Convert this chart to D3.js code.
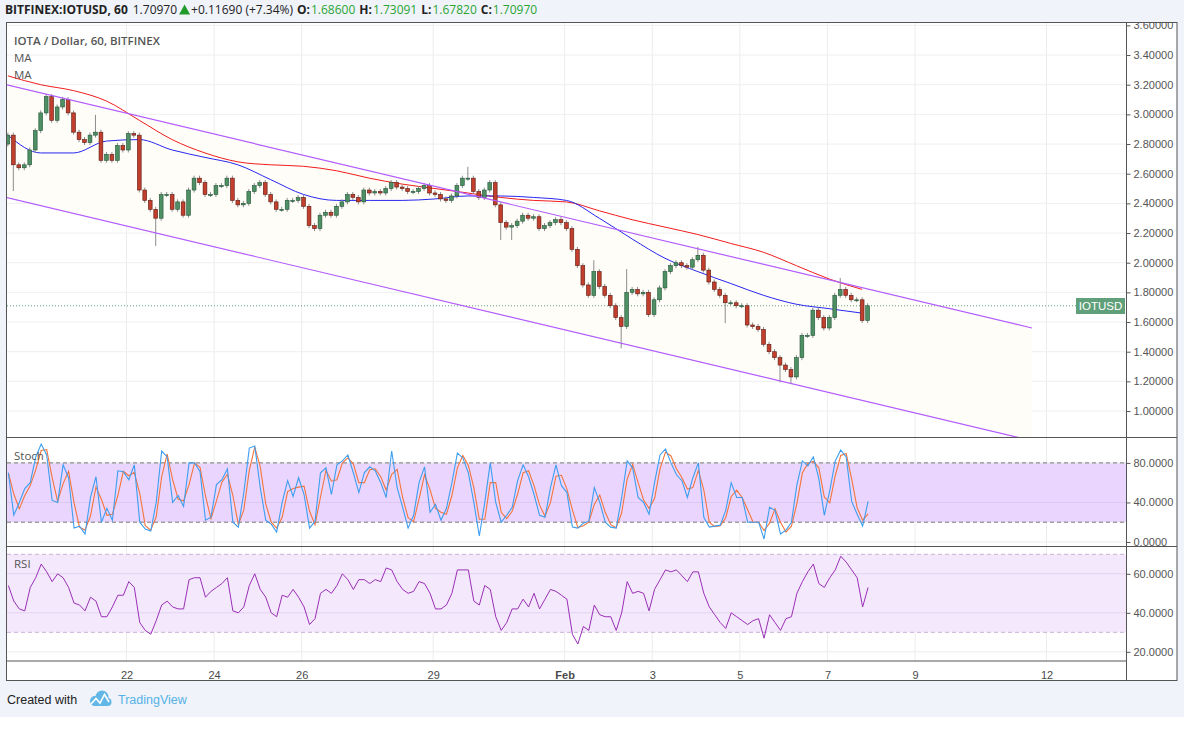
<!DOCTYPE html>
<meta charset='utf-8'>
<style>
  body { margin: 0; background: #fff; }
  svg text { font-family: 'Liberation Sans', Arial, sans-serif; }
</style>
<body>
<script src='https://cdnjs.cloudflare.com/ajax/libs/d3/7.8.5/d3.min.js'></script>
<script>
// ---- data (3h steps, first bar Jan 19 07:00 UTC) ----
var closes = [
  2.86,2.66,2.64,2.66,2.76,2.89,3.01,3.12,2.96,3.05,
  3.10,3.01,2.88,2.83,2.81,2.86,2.88,2.69,2.73,2.69,
  2.79,2.76,2.87,2.86,2.49,2.42,2.36,2.30,2.46,2.46,
  2.36,2.41,2.32,2.49,2.57,2.54,2.46,2.46,2.52,2.52,
  2.57,2.42,2.39,2.40,2.48,2.52,2.54,2.46,2.41,2.36,
  2.36,2.42,2.42,2.44,2.38,2.25,2.23,2.32,2.34,2.32,
  2.38,2.41,2.46,2.44,2.41,2.49,2.47,2.48,2.47,2.50,
  2.54,2.51,2.50,2.48,2.48,2.50,2.52,2.47,2.46,2.43,
  2.42,2.45,2.52,2.57,2.57,2.48,2.44,2.49,2.54,2.39,
  2.27,2.24,2.25,2.28,2.32,2.30,2.31,2.23,2.25,2.27,
  2.29,2.27,2.23,2.09,1.98,1.85,1.78,1.94,1.84,1.78,
  1.71,1.63,1.57,1.80,1.82,1.79,1.80,1.65,1.75,1.83,
  1.94,1.98,2.00,1.98,1.97,2.02,2.05,1.95,1.87,1.82,
  1.78,1.73,1.73,1.71,1.71,1.58,1.57,1.55,1.45,1.40,
  1.36,1.31,1.28,1.23,1.36,1.51,1.51,1.68,1.63,1.56,
  1.63,1.78,1.82,1.78,1.75,1.75,1.61,1.7097
];
var firstOpen = 2.80;
var highSpikes = [[16, 2.98], [84, 2.63], [107, 2.00], [113, 1.94], [126, 2.09], [152, 1.88]];
var lowSpikes = [[1, 2.50], [27, 2.13], [90, 2.17], [92, 2.17], [112, 1.44], [131, 1.61], [141, 1.21], [143, 1.20]];

var maIndex = [0,6,12,18,24,30,36,42,48,54,60,66,72,78,84,90,96,102,108,114,120,126,132,138,144,150,156];
var maSlow = [3.26,3.20,3.16,3.09,2.96,2.83,2.74,2.68,2.66,2.65,2.62,2.57,2.53,2.50,2.47,2.44,2.42,2.41,2.35,2.29,2.24,2.19,2.13,2.07,1.98,1.89,1.82];
var maFast = [2.86,2.74,2.74,2.82,2.83,2.76,2.71,2.66,2.56,2.46,2.42,2.42,2.42,2.43,2.45,2.45,2.44,2.42,2.30,2.16,2.03,1.94,1.86,1.78,1.72,1.69,1.66];

var stochK = [
  70,27,40,54,60,86,99,88,42,40,
  78,65,14,16,8,45,66,20,34,22,
  72,71,63,78,20,13,11,40,92,86,
  40,47,36,80,80,71,22,25,58,63,
  74,20,15,50,95,97,55,22,18,10,
  40,62,46,65,48,14,21,70,75,48,
  78,82,88,70,50,70,76,72,60,45,
  92,55,35,14,27,60,76,30,38,22,
  34,60,90,85,70,40,6,40,80,40,
  20,27,35,62,78,66,48,27,25,55,
  78,57,50,15,14,19,21,55,40,20,
  15,14,45,82,75,45,40,28,60,88,
  94,80,68,62,45,65,80,25,15,16,
  17,32,60,45,45,20,20,20,3,35,
  32,8,12,20,58,82,77,86,64,27,
  52,82,93,86,41,28,16,41
];
var rsi = [
  54,46,42,41,53,58,65,61,56,60,
  58,53,45,44,41,48,46,38,38,43,
  49,49,56,53,35,31,29,36,44,46,
  43,42,42,57,58,58,48,51,53,55,
  58,41,40,43,54,60,52,48,40,38,
  49,48,52,48,43,34,37,50,52,50,
  54,60,57,52,57,57,55,57,56,63,
  62,56,52,50,51,56,55,50,42,42,
  44,50,62,62,62,46,44,54,52,38,
  31,35,42,42,47,43,50,42,47,52,
  51,49,47,29,24,33,31,44,39,38,
  38,31,40,56,50,51,50,41,52,57,
  62,61,62,59,56,61,61,50,43,39,
  35,32,40,38,36,34,36,37,27,39,
  35,31,37,38,50,56,61,65,55,53,
  58,62,69,66,62,58,43,53
];

var channelUpper = [3.20, 1.56];
var channelLower = [2.44, 0.80];

var priceTicks = [1.0,1.2,1.4,1.6,1.8,2.0,2.2,2.4,2.6,2.8,3.0,3.2,3.4,3.6];
var stochTicks = [0, 40, 80];
var rsiTicks = [20, 40, 60];
var dayTicks = [[0,22],[0,24],[0,26],[0,29],[1,1],[1,3],[1,5],[1,7],[1,9],[1,12]];
var dayLabels = ['22','24','26','29','Feb','3','5','7','9','12'];

var headerOhlc = [['O:', '1.68600'], ['H:', '1.73091'], ['L:', '1.67820'], ['C:', '1.70970']];

// ---- layout ----
var width = 1184, height = 737;
var left = 7, right = 1126.5, frameRight = 1177;
var mainTop = 23, mainBottom = 437.5, stochBottom = 546.5, rsiBottom = 661, frameBottom = 680.5;
var osFont = "'Open Sans', sans-serif";

var svg = d3.select('body').append('svg')
  .attr('width', width)
  .attr('height', height);

svg.append('rect').attr('width', width).attr('height', 717).attr('fill', '#f0f3fa');
svg.append('rect').attr('x', left).attr('y', mainTop).attr('width', frameRight - left).attr('height', frameBottom - mainTop).attr('fill', '#fff');

var defs = svg.append('defs');
function clip(id, x0, x1, y0, y1) {
  defs.append('clipPath').attr('id', id).append('rect')
    .attr('x', x0).attr('y', y0).attr('width', x1 - x0).attr('height', y1 - y0);
}
clip('cmain', left, right, mainTop, mainBottom);
clip('cstoch', left, right, mainBottom, stochBottom);
clip('crsi', left, right, stochBottom, rsiBottom);
clip('caxis', right, frameRight, mainTop, mainBottom);

var x = d3.scaleUtc()
  .domain([Date.UTC(2018, 0, 22), Date.UTC(2018, 1, 12)])
  .range([126.5, 1046.5]);
var y = d3.scaleLinear().domain([0.825, 3.616]).range([437, 23]);
var yS = d3.scaleLinear().domain([-4.6, 105.7]).range([stochBottom, mainBottom]);
var yR = d3.scaleLinear().domain([15.3, 74]).range([rsiBottom, stochBottom]);

var t0 = Date.UTC(2018, 0, 19, 7), step = 3 * 3600 * 1000;
function tx(i) { return x(new Date(t0 + i * step)); }

var candles = closes.map(function(c, i) {
  var o = i === 0 ? firstOpen : closes[i - 1];
  return { i: i, o: o, c: c, h: Math.max(o, c), l: Math.min(o, c) };
});
highSpikes.forEach(function(s) { candles[s[0]].h = s[1]; });
lowSpikes.forEach(function(s) { candles[s[0]].l = s[1]; });

// ---- grid ----
var grid = svg.append('g');
var dayDates = dayTicks.map(function(d) { return new Date(Date.UTC(2018, d[0], d[1])); });
grid.selectAll('line.v').data(dayDates).enter().append('line')
  .attr('x1', function(d) { return x(d); }).attr('x2', function(d) { return x(d); })
  .attr('y1', mainTop).attr('y2', rsiBottom)
  .attr('stroke', '#ececec');
grid.selectAll('line.h').data(priceTicks).enter().append('line')
  .attr('x1', left).attr('x2', right)
  .attr('y1', function(d) { return y(d); }).attr('y2', function(d) { return y(d); })
  .attr('stroke', '#efefef');

// ---- main pane ----
var main = svg.append('g').attr('clip-path', 'url(#cmain)');
var chA = new Date(Date.UTC(2018, 0, 19, 6)), chB = new Date(Date.UTC(2018, 1, 11, 16));
main.append('path')
  .attr('d', 'M' + x(chA) + ',' + y(channelUpper[0]) + 'L' + x(chB) + ',' + y(channelUpper[1]) +
    'L' + x(chB) + ',' + y(channelLower[1]) + 'L' + x(chA) + ',' + y(channelLower[0]) + 'Z')
  .attr('fill', '#fffdf8');

// last price dotted line
main.append('line')
  .attr('x1', left).attr('x2', 1076)
  .attr('y1', y(closes[closes.length - 1])).attr('y2', y(closes[closes.length - 1]))
  .attr('stroke', '#5f9f7a').attr('stroke-dasharray', '1,2');

var maLine = d3.line()
  .x(function(d, k) { return tx(maIndex[k]); })
  .y(function(d) { return y(d); })
  .curve(d3.curveMonotoneX);
main.append('path').attr('d', maLine(maSlow)).attr('fill', 'none').attr('stroke', '#f01c1c').attr('stroke-width', 1);
main.append('path').attr('d', maLine(maFast)).attr('fill', 'none').attr('stroke', '#2727ee').attr('stroke-width', 1);

var bw = 3.8;
var cg = main.selectAll('g.c').data(candles).enter().append('g');
cg.append('line')
  .attr('x1', function(d) { return tx(d.i); }).attr('x2', function(d) { return tx(d.i); })
  .attr('y1', function(d) { return y(d.h) - 2.5; }).attr('y2', function(d) { return y(d.l) + 2.5; })
  .attr('stroke', '#8c8c8c');
cg.append('rect')
  .attr('x', function(d) { return tx(d.i) - bw / 2; })
  .attr('y', function(d) { return y(Math.max(d.o, d.c)); })
  .attr('width', bw)
  .attr('height', function(d) { return Math.max(1, Math.abs(y(d.o) - y(d.c))); })
  .attr('fill', function(d) { return d.c >= d.o ? '#4f8f64' : '#c13f2c'; })
  .attr('stroke', function(d) { return d.c >= d.o ? '#225437' : '#5b1a13'; })
  .attr('stroke-width', 0.6);

main.append('line')
  .attr('x1', x(chA)).attr('y1', y(channelUpper[0])).attr('x2', x(chB)).attr('y2', y(channelUpper[1]))
  .attr('stroke', '#b35cff').attr('stroke-width', 1.2);
main.append('line')
  .attr('x1', x(chA)).attr('y1', y(channelLower[0])).attr('x2', x(chB)).attr('y2', y(channelLower[1]))
  .attr('stroke', '#b35cff').attr('stroke-width', 1.2);

// legend
var legend = svg.append('g').attr('fill', '#555');
legend.append('text').attr('x', 14).attr('y', 45).attr('font-size', 11.5).attr('font-weight', 600)
  .style('font-family', osFont).text('IOTA / Dollar, 60, BITFINEX');
legend.append('text').attr('x', 14).attr('y', 62).attr('font-size', 11.5)
  .style('font-family', osFont).text('MA');
legend.append('text').attr('x', 14).attr('y', 79).attr('font-size', 11.5)
  .style('font-family', osFont).text('MA');

// price label
svg.append('rect').attr('x', 1076).attr('y', 298).attr('width', 49).attr('height', 16).attr('fill', '#5f9f7a');
svg.append('text').attr('x', 1100.5).attr('y', 310).attr('text-anchor', 'middle')
  .attr('fill', '#fff').attr('font-size', 11.5).text('IOTUSD');

// ---- stoch pane ----
var st = svg.append('g').attr('clip-path', 'url(#cstoch)');
st.append('rect').attr('x', left).attr('width', right - left)
  .attr('y', yS(80)).attr('height', yS(20) - yS(80)).attr('fill', '#e9d5fd');
stochTicks.forEach(function(v) {
  st.append('line').attr('x1', left).attr('x2', right).attr('y1', yS(v)).attr('y2', yS(v))
    .attr('stroke', v === 40 ? '#dcc6f2' : '#ececec');
});
[80, 20].forEach(function(v) {
  st.append('line').attr('x1', left).attr('x2', right).attr('y1', yS(v)).attr('y2', yS(v))
    .attr('stroke', '#777').attr('stroke-dasharray', '4,3');
});
var stochD = stochK.map(function(v, i) { return i === 0 ? v : (v + stochK[i - 1]) / 2; });
var sLine = d3.line().x(function(d, i) { return tx(i) + 0.5; }).y(function(d) { return yS(d); });
st.append('path').attr('d', sLine(stochD)).attr('fill', 'none').attr('stroke', '#f4743b').attr('stroke-width', 1.1);
st.append('path').attr('d', sLine(stochK)).attr('fill', 'none').attr('stroke', '#3d9ef0').attr('stroke-width', 1.1);
svg.append('text').attr('x', 14).attr('y', 460).attr('fill', '#555').attr('font-size', 11.5)
  .style('font-family', osFont).text('Stoch');

// ---- rsi pane ----
var rs = svg.append('g').attr('clip-path', 'url(#crsi)');
rs.append('rect').attr('x', left).attr('width', right - left)
  .attr('y', yR(70)).attr('height', yR(30) - yR(70)).attr('fill', '#f4e8fd');
rsiTicks.forEach(function(v) {
  rs.append('line').attr('x1', left).attr('x2', right).attr('y1', yR(v)).attr('y2', yR(v))
    .attr('stroke', v === 20 ? '#ececec' : '#e2d2ef');
});
[70, 30].forEach(function(v) {
  rs.append('line').attr('x1', left).attr('x2', right).attr('y1', yR(v)).attr('y2', yR(v))
    .attr('stroke', '#c6b2d4').attr('stroke-dasharray', '4,3');
});
var rLine = d3.line().x(function(d, i) { return tx(i) + 0.5; }).y(function(d) { return yR(d); });
rs.append('path').attr('d', rLine(rsi)).attr('fill', 'none').attr('stroke', '#9a2fb5').attr('stroke-width', 1);
svg.append('text').attr('x', 14).attr('y', 568).attr('fill', '#555').attr('font-size', 11.5)
  .style('font-family', osFont).text('RSI');

// ---- axes ----
function rightAxis(scale, ticks, fmt, clipId) {
  var outer = svg.append('g');
  if (clipId) outer.attr('clip-path', 'url(#' + clipId + ')');
  var g = outer.append('g').attr('transform', 'translate(' + right + ',0)')
    .call(d3.axisRight(scale).tickValues(ticks).tickSize(4).tickPadding(3).tickFormat(d3.format(fmt)));
  g.select('.domain').remove();
  g.selectAll('line').attr('stroke', '#555');
  g.selectAll('text').attr('fill', '#555').attr('font-size', 11).style('font-family', "'Liberation Sans', Arial, sans-serif");
  return g;
}
rightAxis(y, priceTicks, '.5f', 'caxis');
rightAxis(yS, stochTicks, '.4f');
rightAxis(yR, rsiTicks, '.4f');

var xg = svg.append('g').attr('transform', 'translate(0,' + rsiBottom + ')')
  .call(d3.axisBottom(x).tickValues(dayDates).tickSize(0).tickPadding(10)
    .tickFormat(function(d, i) { return dayLabels[i]; }));
xg.select('.domain').remove();
xg.selectAll('text').attr('fill', '#4a4a4a').attr('font-size', 11)
  .style('font-family', "'Liberation Sans', Arial, sans-serif")
  .attr('font-weight', function(d, i) { return dayLabels[i] === 'Feb' ? 'bold' : 'normal'; });

// ---- frame & separators ----
var frame = svg.append('g').attr('stroke', '#555').attr('fill', 'none');
frame.append('rect').attr('x', 6.5).attr('y', 22.5).attr('width', frameRight - 6.5).attr('height', frameBottom - 22.5);
[mainBottom, stochBottom].forEach(function(v) {
  frame.append('line').attr('x1', 6.5).attr('x2', frameRight).attr('y1', v).attr('y2', v);
});
frame.append('line').attr('x1', 6.5).attr('x2', right).attr('y1', rsiBottom).attr('y2', rsiBottom);
frame.append('line').attr('x1', right).attr('x2', right).attr('y1', 22.5).attr('y2', frameBottom);

// ---- header: pieces laid out left to right ----
var hd = svg.append('g');
var cursor = 5;
function piece(txt, opts) {
  var t = hd.append('text').attr('x', cursor).attr('y', 14)
    .attr('font-size', 12).style('font-family', osFont)
    .attr('font-weight', opts.bold ? 700 : 400)
    .attr('fill', opts.color || '#222').text(txt);
  cursor += t.node().getComputedTextLength() + (opts.gap || 0);
}
piece('BITFINEX:IOTUSD, 60', { bold: true, gap: 5 });
piece('1.70970', { gap: 2 });
hd.append('path').attr('d', 'M' + cursor + ',14.5L' + (cursor + 5.5) + ',4.5L' + (cursor + 11) + ',14.5Z').attr('fill', '#1e9b2a');
cursor += 12;
piece('+0.11690 (+7.34%)', { gap: 4 });
headerOhlc.forEach(function(p) {
  piece(p[0], { bold: true, gap: 1 });
  piece(p[1], { color: '#2aa534', gap: 4 });
});

// ---- footer ----
svg.append('text').attr('x', 7).attr('y', 704).attr('fill', '#222').attr('font-size', 12.5).text('Created with');
var logo = svg.append('g').attr('fill', '#62b7e6');
logo.append('circle').attr('cx', 95).attr('cy', 701).attr('r', 5);
logo.append('circle').attr('cx', 102).attr('cy', 697).attr('r', 6.5);
logo.append('circle').attr('cx', 107.5).attr('cy', 702).attr('r', 4);
logo.append('rect').attr('x', 93).attr('y', 700).attr('width', 15).attr('height', 6);
svg.append('path').attr('d', 'M91,704L96,698.5L100,703L104.5,694.5L109,702')
  .attr('fill', 'none').attr('stroke', '#fff').attr('stroke-width', 1.6);
svg.append('text').attr('x', 118).attr('y', 704).attr('fill', '#55b2e6').attr('font-size', 12.5).text('TradingView');
</script>
</body>
